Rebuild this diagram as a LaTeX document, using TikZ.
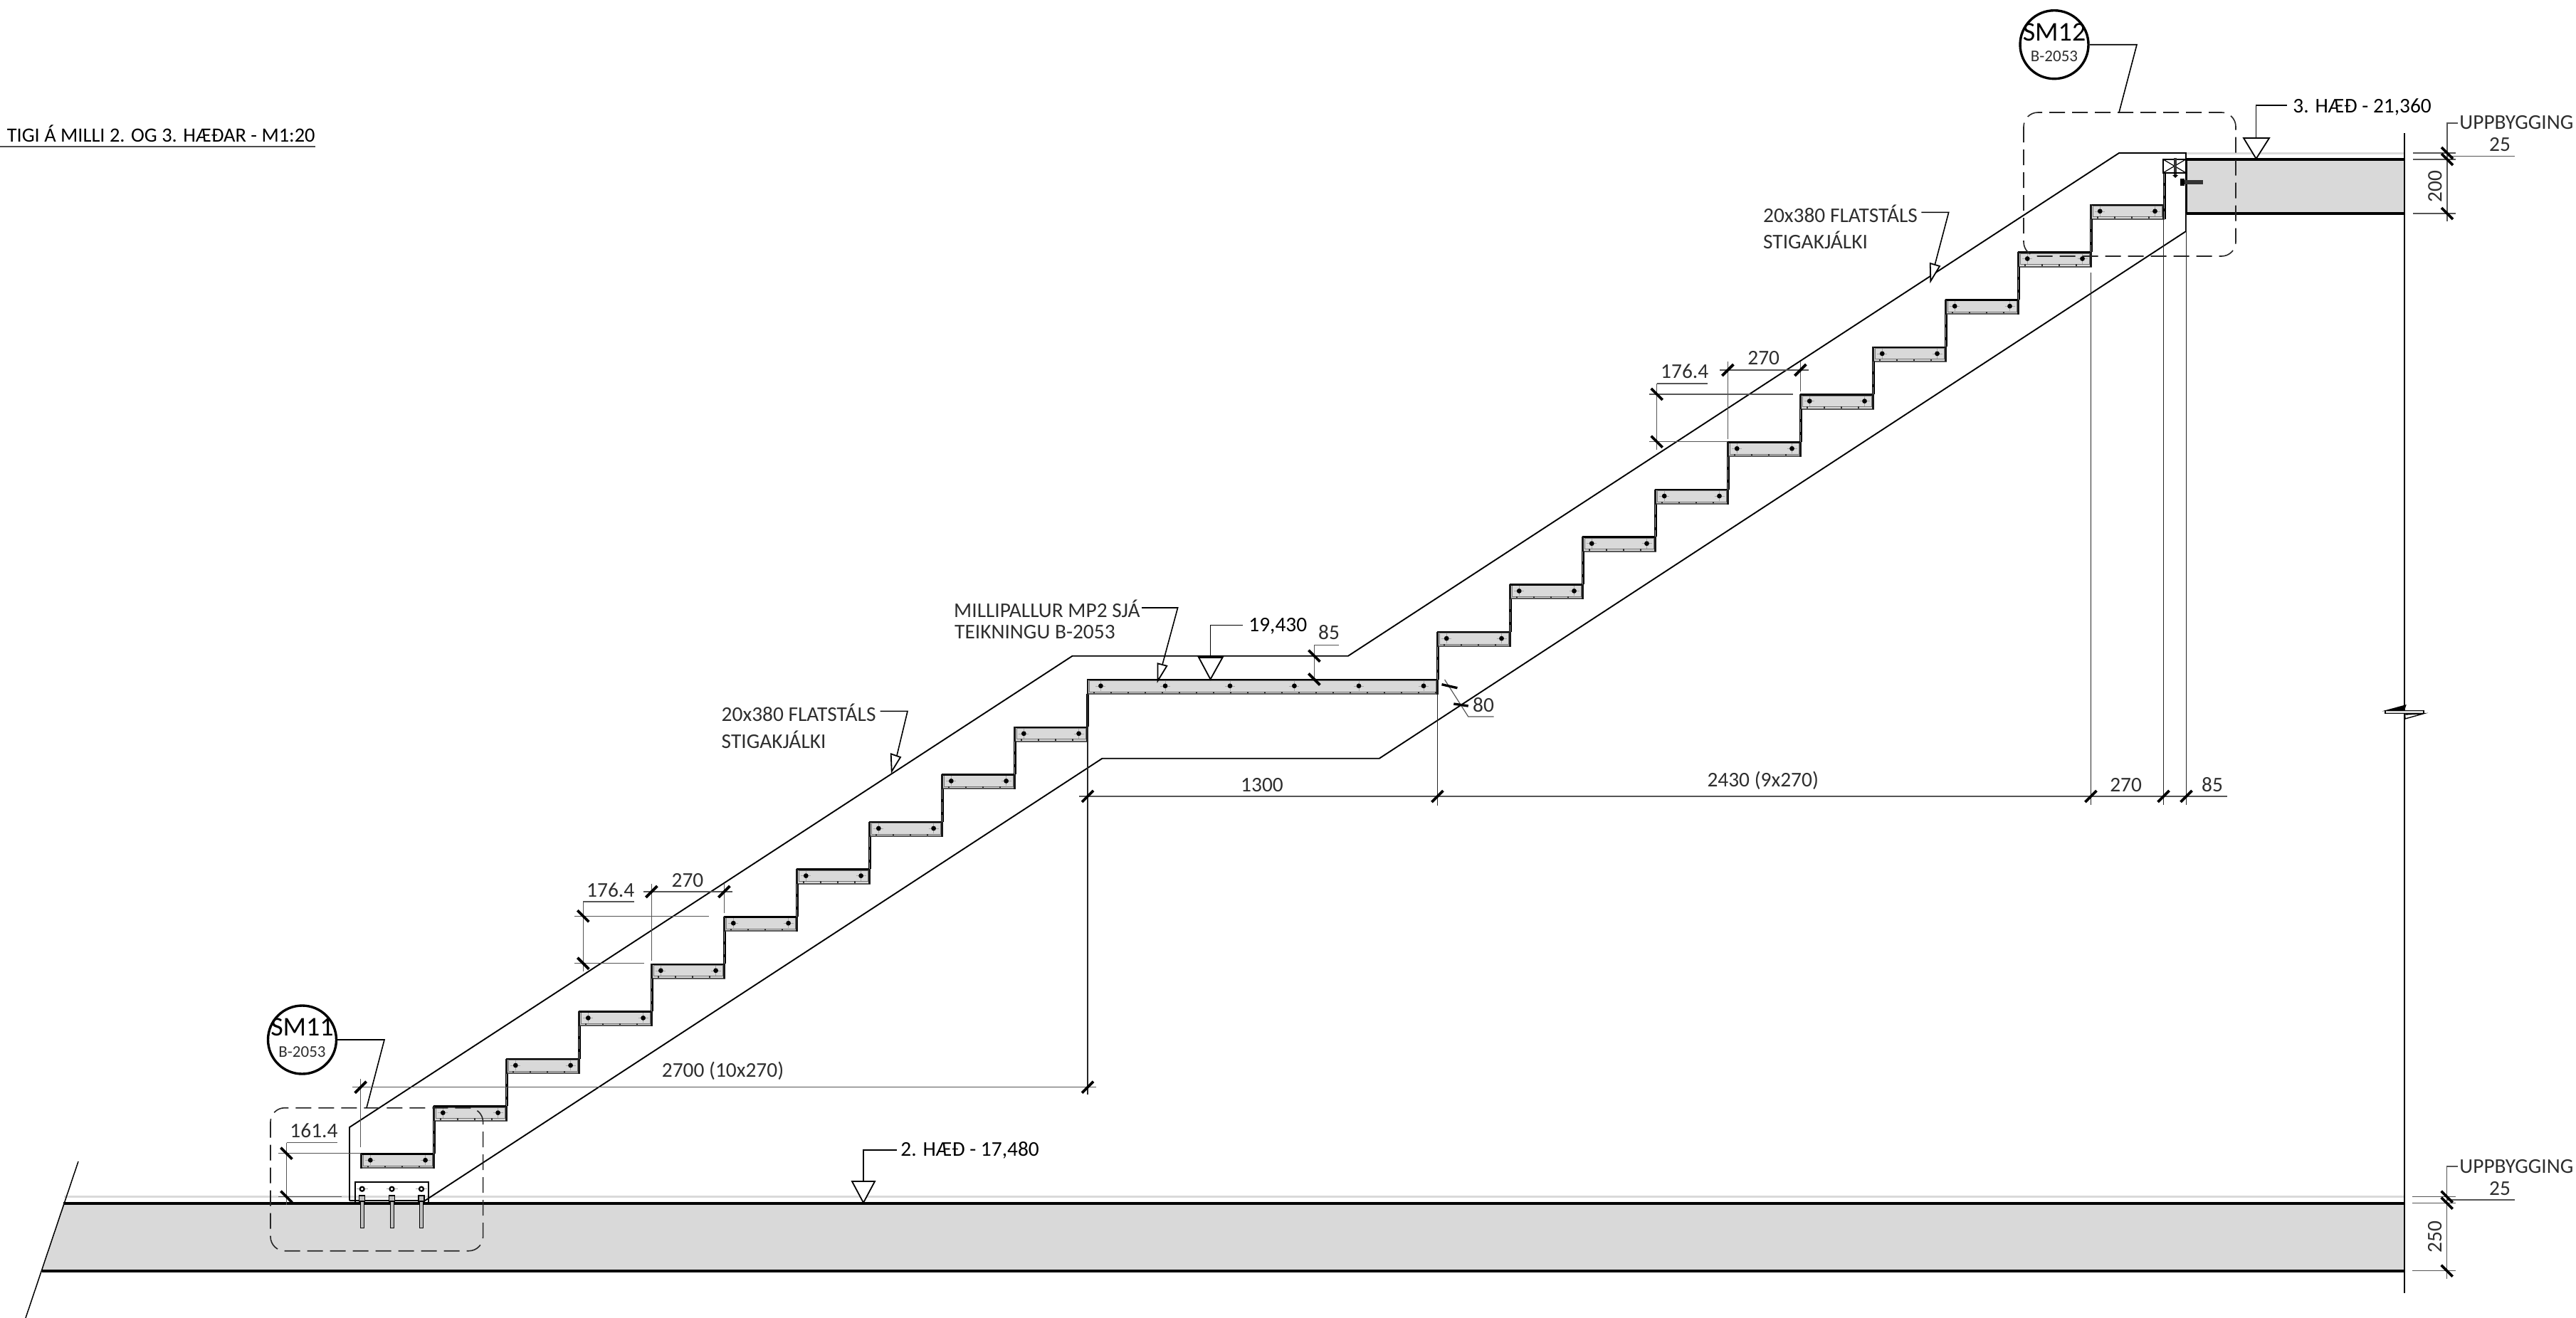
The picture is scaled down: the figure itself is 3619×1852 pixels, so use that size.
\documentclass[tikz,border=0pt]{standalone}
\usepackage{fontspec}
\setmainfont{Carlito}
\definecolor{slabgrey}{HTML}{D9D9D9}
\definecolor{dimgrey}{HTML}{555555}
\definecolor{txtgrey}{HTML}{2E2E2E}
\tikzset{
  lbl/.style={inner sep=0pt,text=txtgrey,font=\fontsize{14.7}{16}\selectfont},
  lblb/.style={inner sep=0pt,text=black,font=\fontsize{14.7}{16}\selectfont},
  dimline/.style={draw=dimgrey,line width=.6pt},
  thinline/.style={draw=black!85,line width=.55pt},
  rail/.style={draw=black,line width=.95pt},
  tickmark/.style={draw=black,line width=1.9pt},
  detailbox/.style={draw=black!85,line width=.8pt,dash pattern=on 11pt off 5pt,rounded corners=10pt},
  lead/.style={draw=black,line width=.8pt},
  tip/.style={draw=black,line width=.9pt,fill=white},
  treadbody/.style={fill=slabgrey},
  marker/.style={draw=black,line width=1.7pt,circle,minimum size=48pt,inner sep=0pt},
  markertop/.style={inner sep=0pt,text=black,font=\fontsize{19}{20}\selectfont},
  markerbot/.style={inner sep=0pt,text=txtgrey,font=\fontsize{11.5}{13}\selectfont},
}
\newcommand{\tickH}[2]{\draw[tickmark] (#1-8,#2+8)--(#1+8,#2-8);}
\newcommand{\tickV}[2]{\draw[tickmark] (#1-8,#2-8)--(#1+8,#2+8);}
\newcommand{\boltdot}[2]{%
  \draw[black!35,line width=.3pt] (#1-7,#2)--(#1+7,#2) (#1,#2-7)--(#1,#2+7);
  \fill[black] (#1,#2) circle (3.4);}
\newcommand{\treadbox}[3]{%
  \fill[treadbody] (#1,#2) rectangle (#1+#3,#2+21);
  \draw[black!55,line width=.45pt] (#1+2.5,#2+2) rectangle (#1+#3-2.5,#2+17.5);
  \draw[black!80,line width=1.4pt,dash pattern=on 1pt off 11pt] (#1+8,#2+18.5)--(#1+#3-2,#2+18.5);
  \draw[black!65,line width=1pt] (#1,#2+20.5)--(#1+#3+1,#2+20.5);
  \draw[black,line width=1.3pt] (#1-1,#2+.5)--(#1+#3+1,#2+.5);
  \draw[black!90,line width=1.4pt] (#1,#2)--(#1,#2+21) (#1+#3,#2)--(#1+#3,#2+21);}
\newcommand{\riser}[3]{%
  \draw[black,line width=2pt] (#1,#2)--(#1,#3);
  \draw[black!40,line width=.4pt,dash pattern=on 7pt off 2pt] (#1,#2)--(#1,#3);}
\begin{document}
\begin{tikzpicture}[x=.5pt,y=-.5pt,line cap=butt]
\useasboundingbox (0,0) rectangle (3619,1852);

% title
\node[anchor=east,inner sep=0pt,text=black,font=\fontsize{14.2}{17}\selectfont] (title) at (443,188) {TIGI Á MILLI 2. OG 3. HÆÐAR - M1:20};
\draw[black!70,line width=1pt] (0,205.7)--(443,205.7);

% lower slab
\fill[slabgrey] (89,1690.7)--(3378,1690.7)--(3378,1785.7)--(59,1785.7)--cycle;
\draw[black!15,line width=1.5pt] (90,1681.7)--(3378,1681.7);
\draw[black,line width=1.9pt] (89,1690.7)--(3378,1690.7);
\draw[black,line width=1.9pt] (59,1785.7)--(3378,1785.7);
\draw[draw=black,line width=.75pt] (110,1632)--(36,1852);

% upper slab
\fill[slabgrey] (3071.5,224)rectangle(3378,300);
\draw[black!15,line width=1.5pt] (3072,215)--(3378,215);
\draw[black,line width=1.6pt] (3071.5,224)--(3378,224);
\draw[black,line width=1.6pt] (3071.5,300)--(3378,300);
\draw[black,line width=1.9pt] (3071.5,224)--(3071.5,300);

% vertical break line
\draw[black,line width=1pt] (3378,187)--(3378,998);
\draw[black,line width=1pt] (3378,1003)--(3378,1817);
\fill[black] (3346.7,999.3)--(3380.7,990)--(3378,998.3)--cycle;
\fill[slabgrey] (3351,998.3) rectangle (3405,1002.7);
\draw[black,line width=.7pt] (3351,998.3) rectangle (3405,1002.7);
\draw[black,line width=.7pt,fill=white] (3378.5,1004)--(3405,1002.7)--(3379,1010)--cycle;

% stringer outlines
\draw[rail] (491,1687)--(491,1584)--(1506.6,921.7)--(1894,921.7)--(2977,215)--(3071,215)--(3071,224);
\draw[rail] (491,1687)--(597,1687)--(1548.5,1065.7)--(1937.8,1065.7)--(3071,325)--(3071,300);

% lower flight
\foreach \k in {0,...,9}{
  \pgfmathsetmacro{\xx}{507.6+102*\k}
  \pgfmathsetmacro{\yy}{1620.7-66.6*\k}
  \treadbox{\xx}{\yy}{102}
  \boltdot{\xx+12.7}{\yy+9.5}
  \boltdot{\xx+90}{\yy+9.5}
}
\foreach \k in {0,...,8}{
  \pgfmathsetmacro{\xx}{507.6+102*(\k+1)}
  \pgfmathsetmacro{\ya}{1620.7-66.6*\k}
  \pgfmathsetmacro{\yb}{\ya-66.6+21}
  \riser{\xx}{\yb}{\ya}
}
\riser{1528}{975}{1021}

% landing
\treadbox{1528}{954.5}{491.5}
\foreach \xx in {1546.4,1637,1728,1818.4,1909,2000}{\boltdot{\xx}{963.8}}
\riser{2019.5}{908.6}{955}

% upper flight
\foreach \j in {0,...,9}{
  \pgfmathsetmacro{\xx}{2019.5+102*\j}
  \pgfmathsetmacro{\yy}{887.6-66.7*\j}
  \treadbox{\xx}{\yy}{102}
  \boltdot{\xx+12.7}{\yy+9.5}
  \boltdot{\xx+90}{\yy+9.5}
}
\foreach \j in {0,...,8}{
  \pgfmathsetmacro{\xx}{2019.5+102*(\j+1)}
  \pgfmathsetmacro{\ya}{887.6-66.7*\j}
  \pgfmathsetmacro{\yb}{\ya-66.7+21}
  \riser{\xx}{\yb}{\ya}
}
\riser{3040.5}{243}{308}

% top connection block
\draw[black,line width=1pt] (3039,224) rectangle (3070.7,242.7);
\draw[black,line width=.6pt] (3039,224)--(3070.7,242.7) (3039,242.7)--(3070.7,224);
\draw[black!80,line width=2.2pt] (3056,222)--(3056,246);
\fill[black] (3052,246)--(3060,246)--(3056,250)--cycle;
\draw[black,line width=1.3pt] (3040,243)--(3071,243);
\draw[black!80,line width=2.6pt] (3064,256)--(3095,256);
\fill[black] (3063,251) rectangle (3069,261);

% base plate and anchors
\draw[black,line width=.9pt] (499,1690)--(499,1660.7)--(602,1660.7)--(602,1690);
\foreach \xx in {508.7,550.5,592}{
  \draw[black!35,line width=.3pt] (\xx-8,1670.7)--(\xx+8,1670.7);
  \draw[black,line width=1.1pt,fill=white] (\xx,1670.7) circle (3);
  \fill[black!25] (\xx-2.5,1688) rectangle (\xx+2.5,1725);
  \draw[black,line width=.5pt] (\xx-2.5,1688) rectangle (\xx+2.5,1725);
  \draw[black,line width=.7pt,fill=black!25] (\xx-4,1680) rectangle (\xx+4,1688);
}

% detail boxes
\draw[detailbox] (380,1556.7) rectangle (678.6,1757.7);
\draw[detailbox] (2843,158) rectangle (3141,360);

% callouts
\node[marker] (sm11) at (424.5,1461) {};
\node[markertop] (sm11t) at (424.5,1443) {SM11};
\node[markerbot] (sm11b) at (424.5,1478) {B-2053};
\coordinate (sm11e) at (515,1556.7);
\draw[lead] (sm11.east)--(540,1461)--(sm11e);
\node[marker] (sm12) at (2886,62.7) {};
\node[markertop] (sm12t) at (2886,45) {SM12};
\node[markerbot] (sm12b) at (2886,79) {B-2053};
\coordinate (sm12e) at (2977,158);
\draw[lead] (sm12.east)--(3002,62.7)--(sm12e);

% level markers
\node[lblb,anchor=west] (lev2) at (1265,1616) {2. HÆÐ - 17,480};
\draw[lead] (1265-5,1616)--(1213,1616)--(1213,1660);
\draw[tip] (1197,1660)--(1229,1660)--(1213,1690)--cycle;
\node[lblb,anchor=west] (lev3) at (3221,150) {3. HÆÐ - 21,360};
\draw[lead] (3213,148)--(3169.6,148)--(3169.6,194);
\draw[tip] (3152,194)--(3188,194)--(3169.6,223)--cycle;
\node[lblb,anchor=west] (levm) at (1754,880) {19,430};
\draw[lead] (1746.4,878.3)--(1700.5,878.3)--(1700.5,923);
\draw[tip] (1683.7,923)--(1718,923)--(1700.5,954.5)--cycle;
\draw[black,line width=1.5pt] (1683.7,923)--(1718,923);

% notes
\node[lbl,anchor=west] (mp1) at (1339.8,855.7) {MILLIPALLUR MP2 SJÁ};
\node[lbl,anchor=west] (mp2) at (1340.8,887.7) {TEIKNINGU B-2053};
\draw[lead] (1604,854)--(1654.6,854)--(1633,934);
\draw[tip] (1626.5,932.3)--(1639.3,935.7)--(1626.5,956.7)--cycle;
\node[lbl,anchor=west] (fa1) at (1013.3,1001.7) {20x380 FLATSTÁLS};
\node[lbl,anchor=west] (fa2) at (1013.3,1039) {STIGAKJÁLKI};
\draw[lead] (1236.7,999.3)--(1275,999.3)--(1260,1061.7);
\draw[tip] (1251.7,1059.3)--(1265,1064)--(1252.7,1084)--cycle;
\node[lbl,anchor=west] (fb1) at (2476.7,300) {20x380 FLATSTÁLS};
\node[lbl,anchor=west] (fb2) at (2476.7,337.7) {STIGAKJÁLKI};
\draw[lead] (2699.3,298.3)--(2737.7,298.3)--(2718,373);
\draw[tip] (2711.7,370)--(2725,374)--(2712.3,395)--cycle;

% dimension 161.4
\draw[dimline] (402.5,1605.7)--(402.5,1693) (402.5,1605.7)--(473.5,1605.7);
\draw[dimline] (391,1620.7)--(507,1620.7) (391,1681.7)--(480,1681.7);
\tickV{402.5}{1620.7}\tickV{402.5}{1681.7}
\node[lbl] (d161) at (441,1589) {161.4};

% dimension 2700
\draw[dimline] (495,1527.7)--(1540,1527.7);
\draw[dimline] (506.6,1516)--(506.6,1611.7);
\draw[thinline] (1528,975)--(1528,1538);
\tickH{506.6}{1527.7}\tickH{1528}{1527.7}
\node[lbl] (d2700) at (1015.5,1505) {2700 (10x270)};

% lower riser and going
\draw[dimline] (819.3,1267)--(819.3,1365) (819.3,1267)--(890.7,1267);
\draw[dimline] (807,1287.3)--(996,1287.3) (807,1353.7)--(905,1353.7);
\tickV{819.3}{1287.3}\tickV{819.3}{1353.7}
\node[lbl] (d176a) at (857.7,1250.7) {176.4};
\draw[dimline] (904,1253)--(1029,1253);
\draw[dimline] (915.3,1241.7)--(915.3,1350) (1017.3,1241.7)--(1017.3,1283);
\tickH{915.3}{1253}\tickH{1017.3}{1253}
\node[lbl] (d270a) at (966,1236.7) {270};

% upper riser and going
\draw[dimline] (2327.7,539)--(2327.7,631.7) (2327.7,539)--(2399,539);
\draw[dimline] (2316.7,554)--(2519,554) (2316.7,620.7)--(2427,620.7);
\tickV{2327.7}{554}\tickV{2327.7}{620.7}
\node[lbl] (d176b) at (2366.7,521.7) {176.4};
\draw[dimline] (2416,520)--(2540.7,520);
\draw[dimline] (2427.3,508)--(2427.3,616.7) (2529.3,508)--(2529.3,550);
\tickH{2427.3}{520}\tickH{2529.3}{520}
\node[lbl] (d270b) at (2477.7,503) {270};

% landing dims
\draw[dimline] (1846.4,906.7)--(1846.4,954) (1846.4,906.7)--(1880.6,906.7);
\tickV{1846.4}{921.7}\tickV{1846.4}{954.5}
\node[lbl] (d85a) at (1867,889) {85};
\draw[dimline] (2029.6,955)--(2062.7,1007)--(2098.5,1007);
\draw[black,line width=1.7pt] (2025.5,961.7)--(2047.4,966.7);
\draw[black,line width=1.7pt] (2042.3,989)--(2062.7,992);
\node[lbl] (d80) at (2084,991) {80};

% long horizontal dim
\draw[dimline] (1516,1119)--(3129,1119);
\draw[thinline] (2019.4,975)--(2019.4,1131.7);
\draw[thinline] (2937.4,383)--(2937.4,1130.7);
\draw[thinline] (3039.5,308)--(3039.5,1130.7);
\draw[thinline] (3071.5,300)--(3071.5,1130.7);
\tickH{1528}{1119}\tickH{2019.4}{1119}\tickH{2937.4}{1119}\tickH{3039.5}{1119}\tickH{3071.5}{1119}
\node[lbl] (d1300) at (1773,1102.7) {1300};
\node[lbl] (d2430) at (2476.7,1097) {2430 (9x270)};
\node[lbl] (d270c) at (2986.6,1102.7) {270};
\node[lbl] (d85b) at (3108,1102.7) {85};

% right dims lower
\draw[dimline] (3389,1681.7)--(3450,1681.7) (3389,1690.7)--(3450,1690.7) (3389,1785.7)--(3450,1785.7);
\draw[dimline] (3453,1639)--(3437.7,1639)--(3437.7,1797);
\draw[dimline] (3437.7,1686)--(3533,1686);
\tickV{3437.7}{1681.7}\tickV{3437.7}{1690.7}\tickV{3437.7}{1785.7}
\node[lbl,anchor=west] (up1) at (3455,1639) {UPPBYGGING};
\node[lbl] (up1n) at (3512,1670) {25};
\node[lbl,rotate=90] (d250) at (3420.7,1738) {250};

% right dims upper
\draw[dimline] (3390,215)--(3449.5,215) (3390,224)--(3449.5,224) (3390,300)--(3449.5,300);
\draw[dimline] (3453,173)--(3438,173)--(3438,310.7);
\draw[dimline] (3438,219.3)--(3533,219.3);
\tickV{3438}{215}\tickV{3438}{224}\tickV{3438}{300}
\node[lbl,anchor=west] (up2) at (3455,172) {UPPBYGGING};
\node[lbl] (up2n) at (3512,203) {25};
\node[lbl,rotate=90] (d200) at (3421,262) {200};
\end{tikzpicture}
\end{document}
